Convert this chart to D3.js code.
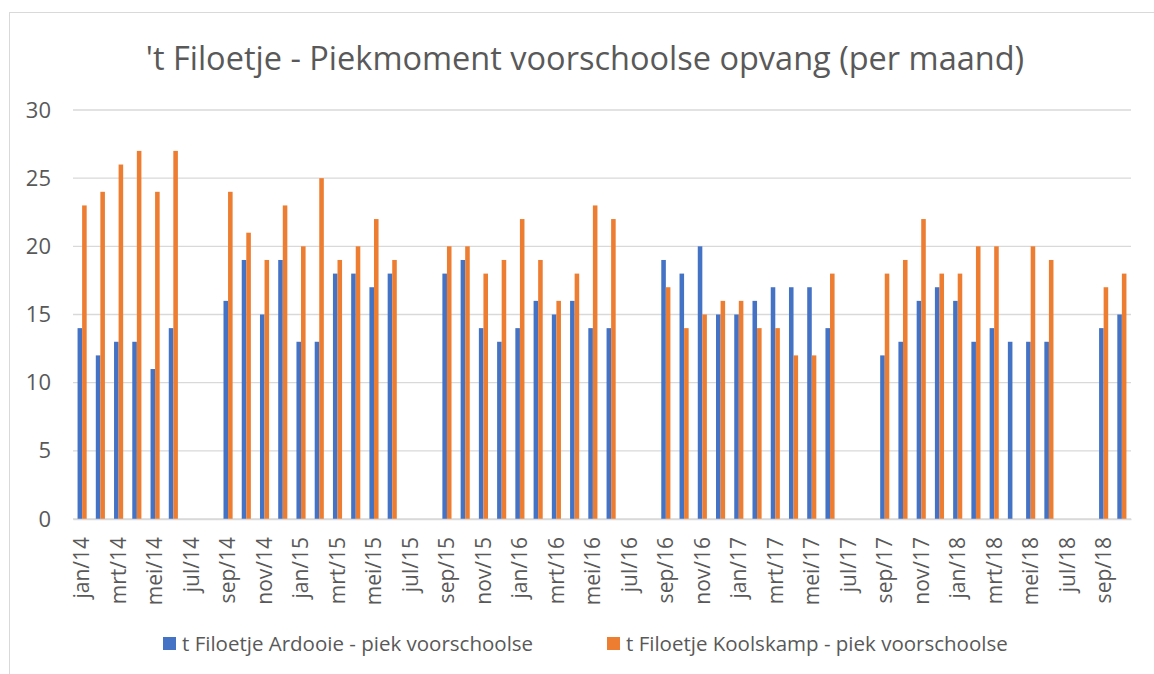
<!DOCTYPE html>
<html>
<head>
<meta charset="utf-8">
<script src="https://cdn.jsdelivr.net/npm/d3@7"></script>
<style>
  body { margin: 0; background: #fff; }
  svg text { font-family: "Open Sans", "Noto Sans", sans-serif; fill: #595959; }
</style>
</head>
<body>
<div id="chart"></div>
<script>
// month labels, jan/14 .. okt/18
const monthNames = ["jan", "feb", "mrt", "apr", "mei", "jun", "jul", "aug", "sep", "okt", "nov", "dec"];
const years = ["14", "15", "16", "17", "18"];
const months = [];
years.forEach(y => monthNames.forEach(m => months.push(m + "/" + y)));
months.splice(58); // ends at okt/18

// peak morning counts (null = no data that month)
const ardooie = [
  14, 12, 13, 13, 11, 14, null, null, 16, 19, 15, 19,
  13, 13, 18, 18, 17, 18, null, null, 18, 19, 14, 13,
  14, 16, 15, 16, 14, 14, null, null, 19, 18, 20, 15,
  15, 16, 17, 17, 17, 14, null, null, 12, 13, 16, 17,
  16, 13, 14, 13, 13, 13, null, null, 14, 15
];
const koolskamp = [
  23, 24, 26, 27, 24, 27, null, null, 24, 21, 19, 23,
  20, 25, 19, 20, 22, 19, null, null, 20, 20, 18, 19,
  22, 19, 16, 18, 23, 22, null, null, 17, 14, 15, 16,
  16, 14, 14, 12, 12, 18, null, null, 18, 19, 22, 18,
  18, 20, 20, null, 20, 19, null, null, 17, 18
];
const seriesNames = ["t Filoetje Ardooie - piek voorschoolse", "t Filoetje Koolskamp - piek voorschoolse"];
const seriesColors = ["#4472C4", "#ED7D31"];
const yTicks = [0, 5, 10, 15, 20, 25, 30];

const width = 1154, height = 674;
const margin = { top: 110, right: 23, bottom: 155, left: 73 };

const svg = d3.select("#chart").append("svg")
    .attr("width", width)
    .attr("height", height);

// chart area border
svg.append("rect")
    .attr("x", 9.5).attr("y", 12.5)
    .attr("width", width + 20).attr("height", height + 20)
    .attr("fill", "none")
    .attr("stroke", "#d9d9d9")
    .attr("stroke-width", 1);

svg.append("text")
    .attr("x", 585).attr("y", 70)
    .attr("text-anchor", "middle")
    .style("font-size", "32.5px")
    .text("'t Filoetje - Piekmoment voorschoolse opvang (per maand)");

const x = d3.scaleBand()
    .domain(months)
    .range([margin.left, width - margin.right])
    .paddingInner(0).paddingOuter(0);

const y = d3.scaleLinear()
    .domain([0, 30])
    .range([height - margin.bottom, margin.top]);

const x1 = d3.scaleBand()
    .domain([0, 1])
    .range([0, x.bandwidth() / 2]);

// gridlines
svg.append("g")
    .selectAll("line")
    .data(yTicks)
    .join("line")
    .attr("x1", margin.left).attr("x2", width - margin.right)
    .attr("y1", d => y(d)).attr("y2", d => y(d))
    .attr("stroke", "#d9d9d9")
    .attr("stroke-width", 1.3);

// y axis labels
const yAxis = svg.append("g")
    .attr("transform", `translate(${margin.left},0)`)
    .call(d3.axisLeft(y).tickValues(yTicks).tickSize(0).tickPadding(22));
yAxis.select(".domain").remove();
yAxis.selectAll("text")
    .style("font-size", "22px")
    .attr("fill", "#595959");

// bars
const groups = svg.append("g")
    .selectAll("g")
    .data(months)
    .join("g")
    .attr("transform", d => `translate(${x(d) + x.bandwidth() / 4},0)`);

groups.selectAll("rect")
    .data((d, i) => [ardooie[i], koolskamp[i]].map((v, s) => ({ v, s })))
    .join("rect")
    .filter(d => d.v != null)
    .attr("x", d => x1(d.s))
    .attr("width", x1.bandwidth())
    .attr("y", d => y(d.v))
    .attr("height", d => y(0) - y(d.v))
    .attr("fill", d => seriesColors[d.s]);

// x axis
const xAxis = svg.append("g")
    .attr("transform", `translate(0,${y(0)})`)
    .call(d3.axisBottom(x)
        .tickValues(months.filter((d, i) => i % 2 === 0))
        .tickSize(0)
        .tickPadding(0));
xAxis.select(".domain")
    .attr("stroke", "#d9d9d9")
    .attr("stroke-width", 1.3);
xAxis.selectAll("text")
    .style("font-size", "21px")
    .attr("fill", "#595959")
    .attr("text-anchor", "end")
    .attr("transform", "rotate(-90)")
    .attr("x", -18)
    .attr("y", 0)
    .attr("dy", "0.35em");

// legend
const legendItems = [
  { name: seriesNames[0], color: seriesColors[0], x: 163 },
  { name: seriesNames[1], color: seriesColors[1], x: 607 }
];
const legend = svg.append("g")
    .selectAll("g")
    .data(legendItems)
    .join("g")
    .attr("transform", d => `translate(${d.x},637)`);
legend.append("rect")
    .attr("width", 13).attr("height", 13)
    .attr("fill", d => d.color);
legend.append("text")
    .attr("x", 19).attr("y", 7)
    .attr("dy", "0.35em")
    .style("font-size", "20.5px")
    .text(d => d.name);
</script>
</body>
</html>
